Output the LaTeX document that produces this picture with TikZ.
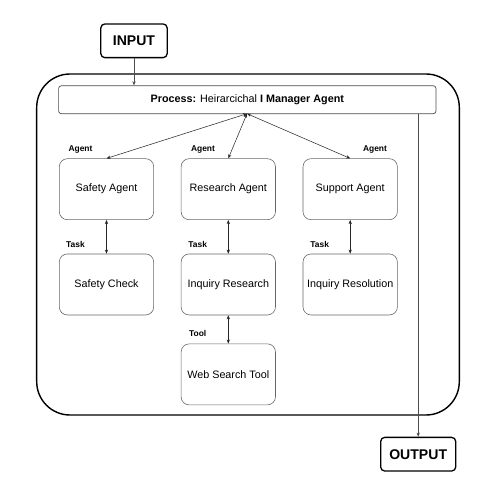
\documentclass[tikz,border=0pt]{standalone}
\usepackage{fontspec}
\setmainfont{Liberation Sans}
\usetikzlibrary{positioning,arrows.meta}

\begin{document}
\begin{tikzpicture}[x=0.03cm, y=-0.03cm,
    box/.style={draw=black!60, line width=0.5pt, rounded corners=0.24cm, minimum width=2.83cm, minimum height=1.83cm, inner sep=0pt, font=\fontsize{9.2}{11}\selectfont},
    iobox/.style={draw, line width=1.1pt, rounded corners=0.12cm, minimum height=1.01cm, inner sep=0pt, font=\fontsize{12}{14}\selectfont\bfseries},
    tag/.style={font=\fontsize{7.2}{8}\selectfont\bfseries, inner sep=0pt},
    link/.style={black!85, line width=0.45pt, {Stealth[length=3.5pt,width=2.8pt]}-{Stealth[length=3.5pt,width=2.8pt]}},
    flow/.style={black!70, line width=0.45pt, -{Stealth[length=3.5pt,width=2.8pt]}}]
    \useasboundingbox (0,0) rectangle (484,495);
    % outer frame
    \draw[line width=1.2pt, rounded corners=1cm] (36.7,74) rectangle (459.3,415);
    \node[iobox, minimum width=1.99cm] (input) at (134,40.8) {INPUT};
    \node[iobox, minimum width=2.25cm] (output) at (418.2,454.2) {OUTPUT};
    \node[draw=black!70, line width=0.6pt, rounded corners=0.08cm, minimum width=11.32cm, minimum height=0.84cm, inner sep=0pt,
        font=\fontsize{9.2}{11}\selectfont] (process) at (247.3,99.7) {\textbf{Process:} Heirarcichal \textbf{I Manager Agent}};
    % agents and tasks
    \node[box] (safety) at (106.5,189.2) {Safety Agent};
    \node[box] (research) at (228.3,189.2) {Research Agent};
    \node[box] (support) at (350.2,189.2) {Support Agent};
    \node[box, below=1.01cm of safety] (check) {Safety Check};
    \node[box, below=1.01cm of research] (inquiry) {Inquiry Research};
    \node[box, below=1.01cm of support] (resolution) {Inquiry Resolution};
    \node[box, below=0.85cm of inquiry] (websearch) {Web Search Tool};
    \node[tag] (tagA1) at (80.5,149.7) {Agent};
    \node[tag] (tagA2) at (203,149.7) {Agent};
    \node[tag] (tagA3) at (375,149.7) {Agent};
    \node[tag] (tagT1) at (75.5,244.3) {Task};
    \node[tag] (tagT2) at (197.7,244.3) {Task};
    \node[tag] (tagT3) at (319.7,244.3) {Task};
    \node[tag] (tagTool) at (197.7,333.7) {Tool};
    % connectors
    \coordinate (hub) at (247,113.7);
    \draw[flow] (input) -- (input |- process.north);
    \draw[flow] (process.south -| output) -- (output);
    \draw[link] (hub) -- (safety.north);
    \draw[link] (hub) -- (research.north);
    \draw[link] (hub) -- (support.north);
    \draw[link] (safety) -- (check);
    \draw[link] (research) -- (inquiry);
    \draw[link] (support) -- (resolution);
    \draw[link] (inquiry) -- (websearch);
\end{tikzpicture}
\end{document}
